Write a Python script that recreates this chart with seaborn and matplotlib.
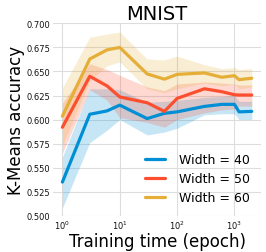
import seaborn as sns
import matplotlib.pyplot as plt
import pandas as pd

epochs = [1, 3, 6, 10, 30, 60, 100, 300, 600, 1000, 1200, 2000]

blue_mean = [0.535, 0.6055, 0.609, 0.615, 0.601, 0.6065, 0.608, 0.6137, 0.6158, 0.6158, 0.608, 0.6085]
blue_lo = [0.508, 0.576, 0.589, 0.600, 0.584, 0.587, 0.591, 0.605, 0.606, 0.606, 0.600, 0.600]
blue_hi = [0.561, 0.632, 0.632, 0.631, 0.618, 0.619, 0.620, 0.623, 0.624, 0.625, 0.619, 0.619]

red_mean = [0.592, 0.645, 0.635, 0.6235, 0.6175, 0.6085, 0.622, 0.632, 0.629, 0.6258, 0.6255, 0.6255]
red_lo = [0.565, 0.631, 0.620, 0.602, 0.597, 0.592, 0.600, 0.607, 0.610, 0.611, 0.614, 0.614]
red_hi = [0.617, 0.658, 0.652, 0.646, 0.634, 0.630, 0.637, 0.639, 0.638, 0.637, 0.636, 0.636]

yellow_mean = [0.6035, 0.663, 0.6725, 0.675, 0.6475, 0.642, 0.647, 0.6485, 0.644, 0.6456, 0.6415, 0.643]
yellow_lo = [0.573, 0.640, 0.656, 0.660, 0.632, 0.628, 0.632, 0.638, 0.635, 0.637, 0.632, 0.634]
yellow_hi = [0.633, 0.6856, 0.689, 0.691, 0.663, 0.662, 0.666, 0.657, 0.653, 0.654, 0.652, 0.653]

labels = ['Width = 40', 'Width = 50', 'Width = 60']
colors = ['#008fd5', '#fc4f30', '#e5ae38']

series = [(blue_mean, blue_lo, blue_hi), (red_mean, red_lo, red_hi),
          (yellow_mean, yellow_lo, yellow_hi)]

rows = []
for lab, (m, lo, hi) in zip(labels, series):
    for e, v in zip(epochs, m):
        rows.append({'epoch': e, 'acc': v, 'Width': lab})
df = pd.DataFrame(rows)

sns.set_theme(style='whitegrid')
plt.rcParams['font.family'] = ['DejaVu Sans']
plt.rcParams['text.color'] = 'black'
plt.rcParams['axes.labelcolor'] = 'black'

fig = plt.figure(figsize=(2.66, 2.53), dpi=100)
ax = fig.add_axes([0.199, 0.1435, 0.783, 0.76])

for (m, lo, hi), c in zip(series, colors):
    ax.fill_between(epochs, lo, hi, color=c, alpha=0.22, linewidth=0)

sns.lineplot(data=df, x='epoch', y='acc', hue='Width', palette=colors,
             linewidth=2.3, ax=ax)

ax.set_xscale('log')
ax.set_ylim(0.5, 0.7)
ax.set_yticks([0.5, 0.525, 0.55, 0.575, 0.6, 0.625, 0.65, 0.675, 0.7])
ax.tick_params(which='both', labelsize=6, pad=2, length=0, labelcolor='#111111')
for s in ax.spines.values():
    s.set_visible(False)
ax.grid(True, color='#dddddd', linewidth=0.8)
ax.grid(False, which='minor')

ax.set_title('MNIST', fontsize=14, pad=3)
ax.set_xlabel('Training time (epoch)', fontsize=12, labelpad=1)
ax.set_ylabel('K-Means accuracy', fontsize=12, labelpad=1)

leg = ax.legend(loc='lower right', fontsize=9, frameon=False,
                handlelength=1.6, handletextpad=1.1, labelspacing=0.5)
for line in leg.get_lines():
    line.set_linewidth(2.3)

fig.savefig('out.png', dpi=100)
